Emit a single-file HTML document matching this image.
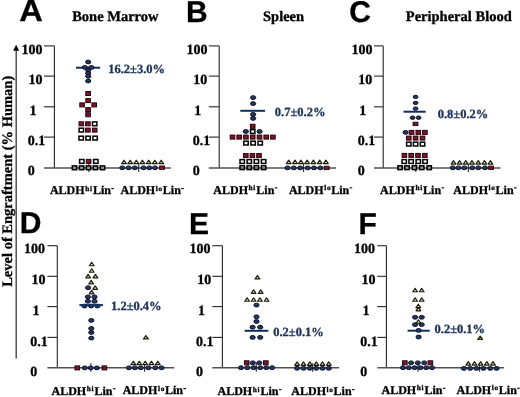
<!DOCTYPE html>
<html><head><meta charset="utf-8"><style>
html,body{margin:0;padding:0;background:#fff;}
svg{display:block;will-change:transform;}
</style></head><body>
<svg width="520" height="397" viewBox="0 0 520 397" text-rendering="geometricPrecision">
<rect width="520" height="397" fill="#fff"/>
<line x1="54.4" y1="45.9" x2="54.4" y2="168.0" stroke="#262626" stroke-width="1.1"/>
<line x1="44.0" y1="45.9" x2="54.4" y2="45.9" stroke="#262626" stroke-width="1.1"/>
<line x1="44.0" y1="76.1" x2="54.4" y2="76.1" stroke="#262626" stroke-width="1.1"/>
<line x1="44.0" y1="106.8" x2="54.4" y2="106.8" stroke="#262626" stroke-width="1.1"/>
<line x1="44.0" y1="137.1" x2="54.4" y2="137.1" stroke="#262626" stroke-width="1.1"/>
<line x1="44.0" y1="168.0" x2="170.9" y2="168.0" stroke="#505050" stroke-width="1.6"/>
<line x1="88.8" y1="163.5" x2="88.8" y2="172.0" stroke="#262626" stroke-width="1.1"/>
<line x1="138.7" y1="163.5" x2="138.7" y2="172.0" stroke="#262626" stroke-width="1.1"/>
<text transform="translate(21.6,53.5) scale(1.0,1)" font-family="Liberation Serif" font-weight="bold" font-size="14" stroke="#000" stroke-width="0.3">100</text>
<text transform="translate(28.4,83.6) scale(1.0,1)" font-family="Liberation Serif" font-weight="bold" font-size="14" stroke="#000" stroke-width="0.3">10</text>
<text transform="translate(29.4,114.9) scale(1.0,1)" font-family="Liberation Serif" font-weight="bold" font-size="14" stroke="#000" stroke-width="0.3">1</text>
<text transform="translate(27.8,145.2) scale(1.0,1)" font-family="Liberation Serif" font-weight="bold" font-size="14" stroke="#000" stroke-width="0.3">0.1</text>
<text transform="translate(27.8,175.4) scale(1.0,1)" font-family="Liberation Serif" font-weight="bold" font-size="14" stroke="#000" stroke-width="0.3">0</text>
<line x1="219.2" y1="45.9" x2="219.2" y2="168.0" stroke="#262626" stroke-width="1.1"/>
<line x1="208.8" y1="45.9" x2="219.2" y2="45.9" stroke="#262626" stroke-width="1.1"/>
<line x1="208.8" y1="76.1" x2="219.2" y2="76.1" stroke="#262626" stroke-width="1.1"/>
<line x1="208.8" y1="106.8" x2="219.2" y2="106.8" stroke="#262626" stroke-width="1.1"/>
<line x1="208.8" y1="137.1" x2="219.2" y2="137.1" stroke="#262626" stroke-width="1.1"/>
<line x1="208.8" y1="168.0" x2="336.0" y2="168.0" stroke="#505050" stroke-width="1.6"/>
<line x1="303.6" y1="163.5" x2="303.6" y2="172.0" stroke="#262626" stroke-width="1.1"/>
<text transform="translate(186.5,53.5) scale(1.0,1)" font-family="Liberation Serif" font-weight="bold" font-size="14" stroke="#000" stroke-width="0.3">100</text>
<text transform="translate(193.3,83.6) scale(1.0,1)" font-family="Liberation Serif" font-weight="bold" font-size="14" stroke="#000" stroke-width="0.3">10</text>
<text transform="translate(194.3,114.9) scale(1.0,1)" font-family="Liberation Serif" font-weight="bold" font-size="14" stroke="#000" stroke-width="0.3">1</text>
<text transform="translate(192.7,145.2) scale(1.0,1)" font-family="Liberation Serif" font-weight="bold" font-size="14" stroke="#000" stroke-width="0.3">0.1</text>
<text transform="translate(192.7,175.4) scale(1.0,1)" font-family="Liberation Serif" font-weight="bold" font-size="14" stroke="#000" stroke-width="0.3">0</text>
<line x1="383.2" y1="45.9" x2="383.2" y2="168.0" stroke="#262626" stroke-width="1.1"/>
<line x1="374.0" y1="45.9" x2="383.2" y2="45.9" stroke="#262626" stroke-width="1.1"/>
<line x1="374.0" y1="76.1" x2="383.2" y2="76.1" stroke="#262626" stroke-width="1.1"/>
<line x1="374.0" y1="106.8" x2="383.2" y2="106.8" stroke="#262626" stroke-width="1.1"/>
<line x1="374.0" y1="137.1" x2="383.2" y2="137.1" stroke="#262626" stroke-width="1.1"/>
<line x1="374.0" y1="168.0" x2="500.5" y2="168.0" stroke="#505050" stroke-width="1.6"/>
<line x1="415.8" y1="163.5" x2="415.8" y2="172.0" stroke="#262626" stroke-width="1.1"/>
<line x1="468.3" y1="163.5" x2="468.3" y2="172.0" stroke="#262626" stroke-width="1.1"/>
<text transform="translate(351.5,53.5) scale(1.0,1)" font-family="Liberation Serif" font-weight="bold" font-size="14" stroke="#000" stroke-width="0.3">100</text>
<text transform="translate(358.3,83.6) scale(1.0,1)" font-family="Liberation Serif" font-weight="bold" font-size="14" stroke="#000" stroke-width="0.3">10</text>
<text transform="translate(359.3,114.9) scale(1.0,1)" font-family="Liberation Serif" font-weight="bold" font-size="14" stroke="#000" stroke-width="0.3">1</text>
<text transform="translate(357.7,145.2) scale(1.0,1)" font-family="Liberation Serif" font-weight="bold" font-size="14" stroke="#000" stroke-width="0.3">0.1</text>
<text transform="translate(357.7,175.4) scale(1.0,1)" font-family="Liberation Serif" font-weight="bold" font-size="14" stroke="#000" stroke-width="0.3">0</text>
<line x1="57.3" y1="245.7" x2="57.3" y2="367.8" stroke="#262626" stroke-width="1.1"/>
<line x1="47.4" y1="245.7" x2="57.3" y2="245.7" stroke="#262626" stroke-width="1.1"/>
<line x1="47.4" y1="276.3" x2="57.3" y2="276.3" stroke="#262626" stroke-width="1.1"/>
<line x1="47.4" y1="306.6" x2="57.3" y2="306.6" stroke="#262626" stroke-width="1.1"/>
<line x1="47.4" y1="337.4" x2="57.3" y2="337.4" stroke="#262626" stroke-width="1.1"/>
<line x1="47.4" y1="367.8" x2="174.2" y2="367.8" stroke="#505050" stroke-width="1.6"/>
<line x1="90.9" y1="363.3" x2="90.9" y2="371.8" stroke="#262626" stroke-width="1.1"/>
<line x1="144.6" y1="363.3" x2="144.6" y2="371.8" stroke="#262626" stroke-width="1.1"/>
<text transform="translate(24.0,252.9) scale(1.0,1)" font-family="Liberation Serif" font-weight="bold" font-size="14" stroke="#000" stroke-width="0.3">100</text>
<text transform="translate(31.6,283.6) scale(1.0,1)" font-family="Liberation Serif" font-weight="bold" font-size="14" stroke="#000" stroke-width="0.3">10</text>
<text transform="translate(32.4,315.0) scale(1.0,1)" font-family="Liberation Serif" font-weight="bold" font-size="14" stroke="#000" stroke-width="0.3">1</text>
<text transform="translate(30.3,345.8) scale(1.0,1)" font-family="Liberation Serif" font-weight="bold" font-size="14" stroke="#000" stroke-width="0.3">0.1</text>
<text transform="translate(30.3,375.7) scale(1.0,1)" font-family="Liberation Serif" font-weight="bold" font-size="14" stroke="#000" stroke-width="0.3">0</text>
<line x1="222.4" y1="245.7" x2="222.4" y2="367.8" stroke="#262626" stroke-width="1.1"/>
<line x1="212.3" y1="245.7" x2="222.4" y2="245.7" stroke="#262626" stroke-width="1.1"/>
<line x1="212.3" y1="276.3" x2="222.4" y2="276.3" stroke="#262626" stroke-width="1.1"/>
<line x1="212.3" y1="306.6" x2="222.4" y2="306.6" stroke="#262626" stroke-width="1.1"/>
<line x1="212.3" y1="337.4" x2="222.4" y2="337.4" stroke="#262626" stroke-width="1.1"/>
<line x1="212.3" y1="367.8" x2="339.20000000000005" y2="367.8" stroke="#505050" stroke-width="1.6"/>
<line x1="256.3" y1="363.3" x2="256.3" y2="371.8" stroke="#262626" stroke-width="1.1"/>
<line x1="312.7" y1="363.3" x2="312.7" y2="371.8" stroke="#262626" stroke-width="1.1"/>
<text transform="translate(189.6,252.9) scale(1.0,1)" font-family="Liberation Serif" font-weight="bold" font-size="14" stroke="#000" stroke-width="0.3">100</text>
<text transform="translate(197.2,283.6) scale(1.0,1)" font-family="Liberation Serif" font-weight="bold" font-size="14" stroke="#000" stroke-width="0.3">10</text>
<text transform="translate(198.0,315.0) scale(1.0,1)" font-family="Liberation Serif" font-weight="bold" font-size="14" stroke="#000" stroke-width="0.3">1</text>
<text transform="translate(195.9,345.8) scale(1.0,1)" font-family="Liberation Serif" font-weight="bold" font-size="14" stroke="#000" stroke-width="0.3">0.1</text>
<text transform="translate(195.9,375.7) scale(1.0,1)" font-family="Liberation Serif" font-weight="bold" font-size="14" stroke="#000" stroke-width="0.3">0</text>
<line x1="386.4" y1="245.7" x2="386.4" y2="367.8" stroke="#262626" stroke-width="1.1"/>
<line x1="377.3" y1="245.7" x2="386.4" y2="245.7" stroke="#262626" stroke-width="1.1"/>
<line x1="377.3" y1="276.3" x2="386.4" y2="276.3" stroke="#262626" stroke-width="1.1"/>
<line x1="377.3" y1="306.6" x2="386.4" y2="306.6" stroke="#262626" stroke-width="1.1"/>
<line x1="377.3" y1="337.4" x2="386.4" y2="337.4" stroke="#262626" stroke-width="1.1"/>
<line x1="377.3" y1="367.8" x2="504.1" y2="367.8" stroke="#505050" stroke-width="1.6"/>
<line x1="418.0" y1="363.3" x2="418.0" y2="371.8" stroke="#262626" stroke-width="1.1"/>
<line x1="479.6" y1="363.3" x2="479.6" y2="371.8" stroke="#262626" stroke-width="1.1"/>
<text transform="translate(354.0,252.9) scale(1.0,1)" font-family="Liberation Serif" font-weight="bold" font-size="14" stroke="#000" stroke-width="0.3">100</text>
<text transform="translate(361.6,283.6) scale(1.0,1)" font-family="Liberation Serif" font-weight="bold" font-size="14" stroke="#000" stroke-width="0.3">10</text>
<text transform="translate(362.4,315.0) scale(1.0,1)" font-family="Liberation Serif" font-weight="bold" font-size="14" stroke="#000" stroke-width="0.3">1</text>
<text transform="translate(360.3,345.8) scale(1.0,1)" font-family="Liberation Serif" font-weight="bold" font-size="14" stroke="#000" stroke-width="0.3">0.1</text>
<text transform="translate(360.3,375.7) scale(1.0,1)" font-family="Liberation Serif" font-weight="bold" font-size="14" stroke="#000" stroke-width="0.3">0</text>
<rect x="85.80" y="91.50" width="4.6" height="4.0" fill="#7e1530" stroke="#220408" stroke-width="1"/>
<rect x="85.80" y="98.60" width="4.6" height="4.0" fill="#7e1530" stroke="#220408" stroke-width="1"/>
<rect x="85.80" y="107.60" width="4.6" height="4.0" fill="#7e1530" stroke="#220408" stroke-width="1"/>
<rect x="85.80" y="112.70" width="4.6" height="4.0" fill="#7e1530" stroke="#220408" stroke-width="1"/>
<rect x="79.80" y="102.90" width="4.6" height="4.0" fill="#7e1530" stroke="#220408" stroke-width="1"/>
<rect x="91.90" y="102.90" width="4.6" height="4.0" fill="#7e1530" stroke="#220408" stroke-width="1"/>
<rect x="79.00" y="121.80" width="4.6" height="4.0" fill="#7e1530" stroke="#220408" stroke-width="1"/>
<rect x="85.60" y="121.80" width="4.6" height="4.0" fill="#7e1530" stroke="#220408" stroke-width="1"/>
<rect x="92.50" y="121.90" width="4.4" height="3.8" fill="#fff" stroke="#000" stroke-width="1.5"/>
<rect x="79.10" y="128.20" width="4.4" height="3.8" fill="#fff" stroke="#000" stroke-width="1.5"/>
<rect x="85.60" y="128.10" width="4.6" height="4.0" fill="#7e1530" stroke="#220408" stroke-width="1"/>
<rect x="92.40" y="128.10" width="4.6" height="4.0" fill="#7e1530" stroke="#220408" stroke-width="1"/>
<rect x="79.00" y="136.20" width="4.4" height="3.8" fill="#fff" stroke="#000" stroke-width="1.5"/>
<rect x="85.90" y="136.20" width="4.4" height="3.8" fill="#fff" stroke="#000" stroke-width="1.5"/>
<rect x="92.90" y="136.20" width="4.4" height="3.8" fill="#fff" stroke="#000" stroke-width="1.5"/>
<rect x="79.60" y="159.50" width="4.4" height="3.8" fill="#fff" stroke="#000" stroke-width="1.5"/>
<rect x="86.30" y="159.40" width="4.6" height="4.0" fill="#7e1530" stroke="#220408" stroke-width="1"/>
<rect x="93.60" y="159.50" width="4.4" height="3.8" fill="#fff" stroke="#000" stroke-width="1.5"/>
<rect x="72.30" y="165.90" width="4.4" height="3.8" fill="#9a9a9a" stroke="#000" stroke-width="1.5"/>
<rect x="79.40" y="165.90" width="4.4" height="3.8" fill="#9a9a9a" stroke="#000" stroke-width="1.5"/>
<rect x="86.30" y="165.90" width="4.4" height="3.8" fill="#9a9a9a" stroke="#000" stroke-width="1.5"/>
<rect x="93.20" y="165.90" width="4.4" height="3.8" fill="#9a9a9a" stroke="#000" stroke-width="1.5"/>
<rect x="100.30" y="165.90" width="4.4" height="3.8" fill="#9a9a9a" stroke="#000" stroke-width="1.5"/>
<line x1="76.0" y1="67.7" x2="100.2" y2="67.7" stroke="#0f2f5e" stroke-width="2"/>
<ellipse cx="88.2" cy="62.0" rx="2.6" ry="1.9" fill="#263863" stroke="#0a0d22" stroke-width="1"/>
<ellipse cx="84.8" cy="67.4" rx="2.6" ry="1.9" fill="#263863" stroke="#0a0d22" stroke-width="1"/>
<ellipse cx="91.4" cy="67.4" rx="2.6" ry="1.9" fill="#263863" stroke="#0a0d22" stroke-width="1"/>
<ellipse cx="88.2" cy="70.2" rx="2.6" ry="1.9" fill="#263863" stroke="#0a0d22" stroke-width="1"/>
<ellipse cx="88.2" cy="73.2" rx="2.6" ry="1.9" fill="#263863" stroke="#0a0d22" stroke-width="1"/>
<ellipse cx="88.2" cy="76.3" rx="2.6" ry="1.9" fill="#263863" stroke="#0a0d22" stroke-width="1"/>
<ellipse cx="88.2" cy="81.0" rx="2.6" ry="1.9" fill="#1a3f44" stroke="#0a0d22" stroke-width="1"/>
<polygon points="124.00,160.25 126.35,163.65 121.65,163.65" fill="#e8ecc8" stroke="#1c1c0c" stroke-width="1.2" stroke-linejoin="round"/>
<polygon points="130.20,160.25 132.55,163.65 127.85,163.65" fill="#e8ecc8" stroke="#1c1c0c" stroke-width="1.2" stroke-linejoin="round"/>
<polygon points="136.30,160.25 138.65,163.65 133.95,163.65" fill="#e8ecc8" stroke="#1c1c0c" stroke-width="1.2" stroke-linejoin="round"/>
<polygon points="142.40,160.25 144.75,163.65 140.05,163.65" fill="#e8ecc8" stroke="#1c1c0c" stroke-width="1.2" stroke-linejoin="round"/>
<polygon points="148.70,160.25 151.05,163.65 146.35,163.65" fill="#e8ecc8" stroke="#1c1c0c" stroke-width="1.2" stroke-linejoin="round"/>
<polygon points="154.80,160.25 157.15,163.65 152.45,163.65" fill="#e8ecc8" stroke="#1c1c0c" stroke-width="1.2" stroke-linejoin="round"/>
<polygon points="161.20,160.25 163.55,163.65 158.85,163.65" fill="#e8ecc8" stroke="#1c1c0c" stroke-width="1.2" stroke-linejoin="round"/>
<ellipse cx="122.3" cy="167.8" rx="2.6" ry="1.9" fill="#263863" stroke="#0a0d22" stroke-width="1"/>
<ellipse cx="128.6" cy="167.8" rx="2.6" ry="1.9" fill="#263863" stroke="#0a0d22" stroke-width="1"/>
<ellipse cx="134.8" cy="167.8" rx="2.6" ry="1.9" fill="#263863" stroke="#0a0d22" stroke-width="1"/>
<ellipse cx="143.5" cy="167.8" rx="2.6" ry="1.9" fill="#263863" stroke="#0a0d22" stroke-width="1"/>
<ellipse cx="149.3" cy="167.8" rx="2.6" ry="1.9" fill="#263863" stroke="#0a0d22" stroke-width="1"/>
<ellipse cx="155.0" cy="167.8" rx="2.6" ry="1.9" fill="#263863" stroke="#0a0d22" stroke-width="1"/>
<rect x="159.60" y="166.00" width="4.8" height="3.4" fill="#7e1530" stroke="#220408" stroke-width="0.9"/>
<ellipse cx="253.1" cy="97.6" rx="2.6" ry="1.9" fill="#263863" stroke="#0a0d22" stroke-width="1"/>
<ellipse cx="253.1" cy="103.6" rx="2.6" ry="1.9" fill="#263863" stroke="#0a0d22" stroke-width="1"/>
<line x1="240.3" y1="110.8" x2="265.1" y2="110.8" stroke="#0f2f5e" stroke-width="2"/>
<ellipse cx="253.1" cy="114.4" rx="2.6" ry="1.9" fill="#263863" stroke="#0a0d22" stroke-width="1"/>
<ellipse cx="253.1" cy="118.4" rx="2.6" ry="1.9" fill="#263863" stroke="#0a0d22" stroke-width="1"/>
<rect x="250.40" y="124.30" width="4.6" height="4.0" fill="#7e1530" stroke="#220408" stroke-width="1"/>
<rect x="230.20" y="135.10" width="4.6" height="4.0" fill="#7e1530" stroke="#220408" stroke-width="1"/>
<rect x="236.90" y="135.10" width="4.6" height="4.0" fill="#7e1530" stroke="#220408" stroke-width="1"/>
<rect x="243.60" y="135.10" width="4.6" height="4.0" fill="#7e1530" stroke="#220408" stroke-width="1"/>
<rect x="250.40" y="135.10" width="4.6" height="4.0" fill="#7e1530" stroke="#220408" stroke-width="1"/>
<rect x="257.20" y="135.10" width="4.6" height="4.0" fill="#7e1530" stroke="#220408" stroke-width="1"/>
<rect x="263.90" y="135.10" width="4.6" height="4.0" fill="#7e1530" stroke="#220408" stroke-width="1"/>
<rect x="270.60" y="135.10" width="4.6" height="4.0" fill="#7e1530" stroke="#220408" stroke-width="1"/>
<ellipse cx="245.8" cy="131.5" rx="2.6" ry="1.9" fill="#263863" stroke="#0a0d22" stroke-width="1"/>
<rect x="250.50" y="129.60" width="4.4" height="3.8" fill="#fff" stroke="#000" stroke-width="1.5"/>
<ellipse cx="259.6" cy="131.5" rx="2.6" ry="1.9" fill="#263863" stroke="#0a0d22" stroke-width="1"/>
<rect x="243.80" y="141.20" width="4.4" height="3.8" fill="#fff" stroke="#000" stroke-width="1.5"/>
<rect x="250.90" y="141.20" width="4.4" height="3.8" fill="#fff" stroke="#000" stroke-width="1.5"/>
<rect x="258.00" y="141.20" width="4.4" height="3.8" fill="#fff" stroke="#000" stroke-width="1.5"/>
<rect x="243.50" y="153.60" width="4.6" height="4.0" fill="#7e1530" stroke="#220408" stroke-width="1"/>
<rect x="250.10" y="153.60" width="4.6" height="4.0" fill="#7e1530" stroke="#220408" stroke-width="1"/>
<rect x="256.70" y="153.60" width="4.6" height="4.0" fill="#7e1530" stroke="#220408" stroke-width="1"/>
<rect x="240.00" y="159.60" width="4.4" height="3.8" fill="#fff" stroke="#000" stroke-width="1.5"/>
<rect x="247.10" y="159.60" width="4.4" height="3.8" fill="#fff" stroke="#000" stroke-width="1.5"/>
<rect x="254.20" y="159.60" width="4.4" height="3.8" fill="#fff" stroke="#000" stroke-width="1.5"/>
<rect x="261.40" y="159.60" width="4.4" height="3.8" fill="#fff" stroke="#000" stroke-width="1.5"/>
<rect x="240.00" y="165.80" width="4.4" height="3.8" fill="none" stroke="#000" stroke-width="1.5"/>
<rect x="247.10" y="165.80" width="4.4" height="3.8" fill="none" stroke="#000" stroke-width="1.5"/>
<rect x="254.20" y="165.80" width="4.4" height="3.8" fill="none" stroke="#000" stroke-width="1.5"/>
<rect x="261.40" y="165.80" width="4.4" height="3.8" fill="none" stroke="#000" stroke-width="1.5"/>
<polygon points="288.70,160.15 291.05,163.55 286.35,163.55" fill="#e8ecc8" stroke="#1c1c0c" stroke-width="1.2" stroke-linejoin="round"/>
<polygon points="295.00,160.15 297.35,163.55 292.65,163.55" fill="#e8ecc8" stroke="#1c1c0c" stroke-width="1.2" stroke-linejoin="round"/>
<polygon points="300.90,160.15 303.25,163.55 298.55,163.55" fill="#e8ecc8" stroke="#1c1c0c" stroke-width="1.2" stroke-linejoin="round"/>
<polygon points="307.10,160.15 309.45,163.55 304.75,163.55" fill="#e8ecc8" stroke="#1c1c0c" stroke-width="1.2" stroke-linejoin="round"/>
<polygon points="313.40,160.15 315.75,163.55 311.05,163.55" fill="#e8ecc8" stroke="#1c1c0c" stroke-width="1.2" stroke-linejoin="round"/>
<polygon points="319.70,160.15 322.05,163.55 317.35,163.55" fill="#e8ecc8" stroke="#1c1c0c" stroke-width="1.2" stroke-linejoin="round"/>
<polygon points="325.90,160.15 328.25,163.55 323.55,163.55" fill="#e8ecc8" stroke="#1c1c0c" stroke-width="1.2" stroke-linejoin="round"/>
<ellipse cx="287.5" cy="167.9" rx="2.6" ry="1.9" fill="#263863" stroke="#0a0d22" stroke-width="1"/>
<ellipse cx="293.8" cy="167.9" rx="2.6" ry="1.9" fill="#263863" stroke="#0a0d22" stroke-width="1"/>
<ellipse cx="300.2" cy="167.9" rx="2.6" ry="1.9" fill="#263863" stroke="#0a0d22" stroke-width="1"/>
<ellipse cx="307.7" cy="167.9" rx="2.6" ry="1.9" fill="#263863" stroke="#0a0d22" stroke-width="1"/>
<ellipse cx="314.0" cy="167.9" rx="2.6" ry="1.9" fill="#263863" stroke="#0a0d22" stroke-width="1"/>
<ellipse cx="320.4" cy="167.9" rx="2.6" ry="1.9" fill="#1a3f44" stroke="#0a0d22" stroke-width="1"/>
<rect x="324.30" y="166.20" width="4.8" height="3.4" fill="#7e1530" stroke="#220408" stroke-width="0.9"/>
<ellipse cx="415.6" cy="96.9" rx="2.4" ry="1.6" fill="#263863" stroke="#0a0d22" stroke-width="1"/>
<ellipse cx="415.6" cy="102.9" rx="2.4" ry="1.6" fill="#263863" stroke="#0a0d22" stroke-width="1"/>
<ellipse cx="415.6" cy="108.6" rx="2.4" ry="1.7" fill="#263863" stroke="#0a0d22" stroke-width="1"/>
<line x1="403.5" y1="111.7" x2="425.7" y2="111.7" stroke="#0f2f5e" stroke-width="2"/>
<ellipse cx="412.6" cy="117.7" rx="2.4" ry="1.7" fill="#263863" stroke="#0a0d22" stroke-width="1"/>
<ellipse cx="418.6" cy="117.7" rx="2.4" ry="1.7" fill="#263863" stroke="#0a0d22" stroke-width="1"/>
<rect x="413.10" y="122.20" width="4.8" height="3.4" fill="#7e1530" stroke="#220408" stroke-width="0.9"/>
<ellipse cx="405.6" cy="132.4" rx="2.6" ry="1.9" fill="#263863" stroke="#0a0d22" stroke-width="1"/>
<rect x="409.30" y="130.40" width="4.6" height="4.0" fill="#7e1530" stroke="#220408" stroke-width="1"/>
<rect x="416.00" y="130.40" width="4.6" height="4.0" fill="#7e1530" stroke="#220408" stroke-width="1"/>
<rect x="422.60" y="130.40" width="4.6" height="4.0" fill="#7e1530" stroke="#220408" stroke-width="1"/>
<rect x="406.50" y="136.10" width="4.6" height="4.0" fill="#7e1530" stroke="#220408" stroke-width="1"/>
<rect x="413.30" y="136.10" width="4.6" height="4.0" fill="#7e1530" stroke="#220408" stroke-width="1"/>
<rect x="420.20" y="136.10" width="4.6" height="4.0" fill="#7e1530" stroke="#220408" stroke-width="1"/>
<rect x="406.60" y="142.20" width="4.4" height="3.8" fill="#fff" stroke="#000" stroke-width="1.5"/>
<rect x="413.40" y="142.20" width="4.4" height="3.8" fill="#fff" stroke="#000" stroke-width="1.5"/>
<rect x="420.30" y="142.20" width="4.4" height="3.8" fill="#fff" stroke="#000" stroke-width="1.5"/>
<rect x="402.10" y="153.40" width="4.6" height="4.0" fill="#7e1530" stroke="#220408" stroke-width="1"/>
<rect x="408.90" y="153.40" width="4.6" height="4.0" fill="#7e1530" stroke="#220408" stroke-width="1"/>
<rect x="415.70" y="153.40" width="4.6" height="4.0" fill="#7e1530" stroke="#220408" stroke-width="1"/>
<rect x="422.50" y="153.40" width="4.6" height="4.0" fill="#7e1530" stroke="#220408" stroke-width="1"/>
<rect x="402.00" y="159.60" width="4.4" height="3.8" fill="#fff" stroke="#000" stroke-width="1.5"/>
<rect x="408.90" y="159.60" width="4.4" height="3.8" fill="#fff" stroke="#000" stroke-width="1.5"/>
<rect x="416.10" y="159.60" width="4.4" height="3.8" fill="#fff" stroke="#000" stroke-width="1.5"/>
<rect x="422.90" y="159.60" width="4.4" height="3.8" fill="#fff" stroke="#000" stroke-width="1.5"/>
<rect x="397.90" y="165.80" width="4.4" height="3.8" fill="#9a9a9a" stroke="#000" stroke-width="1.5"/>
<rect x="404.80" y="165.80" width="4.4" height="3.8" fill="#9a9a9a" stroke="#000" stroke-width="1.5"/>
<rect x="412.20" y="165.80" width="4.4" height="3.8" fill="#9a9a9a" stroke="#000" stroke-width="1.5"/>
<rect x="419.50" y="165.80" width="4.4" height="3.8" fill="#9a9a9a" stroke="#000" stroke-width="1.5"/>
<rect x="427.00" y="165.80" width="4.4" height="3.8" fill="#9a9a9a" stroke="#000" stroke-width="1.5"/>
<polygon points="453.50,160.65 455.85,164.05 451.15,164.05" fill="#e8ecc8" stroke="#1c1c0c" stroke-width="1.2" stroke-linejoin="round"/>
<polygon points="459.60,160.65 461.95,164.05 457.25,164.05" fill="#e8ecc8" stroke="#1c1c0c" stroke-width="1.2" stroke-linejoin="round"/>
<polygon points="465.70,160.65 468.05,164.05 463.35,164.05" fill="#e8ecc8" stroke="#1c1c0c" stroke-width="1.2" stroke-linejoin="round"/>
<polygon points="472.00,160.65 474.35,164.05 469.65,164.05" fill="#e8ecc8" stroke="#1c1c0c" stroke-width="1.2" stroke-linejoin="round"/>
<polygon points="478.30,160.65 480.65,164.05 475.95,164.05" fill="#e8ecc8" stroke="#1c1c0c" stroke-width="1.2" stroke-linejoin="round"/>
<polygon points="484.40,160.65 486.75,164.05 482.05,164.05" fill="#e8ecc8" stroke="#1c1c0c" stroke-width="1.2" stroke-linejoin="round"/>
<polygon points="490.50,160.65 492.85,164.05 488.15,164.05" fill="#e8ecc8" stroke="#1c1c0c" stroke-width="1.2" stroke-linejoin="round"/>
<ellipse cx="452.8" cy="167.8" rx="2.6" ry="1.9" fill="#263863" stroke="#0a0d22" stroke-width="1"/>
<ellipse cx="458.4" cy="167.8" rx="2.6" ry="1.9" fill="#263863" stroke="#0a0d22" stroke-width="1"/>
<ellipse cx="464.3" cy="167.8" rx="2.6" ry="1.9" fill="#263863" stroke="#0a0d22" stroke-width="1"/>
<ellipse cx="472.3" cy="167.8" rx="2.6" ry="1.9" fill="#263863" stroke="#0a0d22" stroke-width="1"/>
<ellipse cx="478.4" cy="167.8" rx="2.6" ry="1.9" fill="#263863" stroke="#0a0d22" stroke-width="1"/>
<ellipse cx="485.0" cy="167.8" rx="2.6" ry="1.9" fill="#1a3f44" stroke="#0a0d22" stroke-width="1"/>
<rect x="488.70" y="166.10" width="4.8" height="3.4" fill="#7e1530" stroke="#220408" stroke-width="0.9"/>
<rect x="75.00" y="365.90" width="4.6" height="4.0" fill="#7e1530" stroke="#220408" stroke-width="1"/>
<rect x="102.10" y="365.90" width="4.6" height="4.0" fill="#7e1530" stroke="#220408" stroke-width="1"/>
<ellipse cx="84.8" cy="367.9" rx="2.6" ry="1.9" fill="#263863" stroke="#0a0d22" stroke-width="1"/>
<ellipse cx="90.7" cy="367.9" rx="2.6" ry="1.9" fill="#263863" stroke="#0a0d22" stroke-width="1"/>
<ellipse cx="96.9" cy="367.9" rx="2.6" ry="1.9" fill="#263863" stroke="#0a0d22" stroke-width="1"/>
<polygon points="91.70,262.35 94.05,265.75 89.35,265.75" fill="#e8ecc8" stroke="#1c1c0c" stroke-width="1.2" stroke-linejoin="round"/>
<polygon points="91.70,268.85 94.05,272.25 89.35,272.25" fill="#e8ecc8" stroke="#1c1c0c" stroke-width="1.2" stroke-linejoin="round"/>
<polygon points="88.10,274.45 90.45,277.85 85.75,277.85" fill="#e8ecc8" stroke="#1c1c0c" stroke-width="1.2" stroke-linejoin="round"/>
<polygon points="95.40,274.45 97.75,277.85 93.05,277.85" fill="#e8ecc8" stroke="#1c1c0c" stroke-width="1.2" stroke-linejoin="round"/>
<polygon points="91.20,280.45 93.55,283.85 88.85,283.85" fill="#e8ecc8" stroke="#1c1c0c" stroke-width="1.2" stroke-linejoin="round"/>
<ellipse cx="88.1" cy="287.7" rx="2.6" ry="1.9" fill="#263863" stroke="#0a0d22" stroke-width="1"/>
<polygon points="95.20,285.95 97.55,289.35 92.85,289.35" fill="#e8ecc8" stroke="#1c1c0c" stroke-width="1.2" stroke-linejoin="round"/>
<polygon points="91.60,290.45 93.95,293.85 89.25,293.85" fill="#e8ecc8" stroke="#1c1c0c" stroke-width="1.2" stroke-linejoin="round"/>
<ellipse cx="87.9" cy="296.9" rx="2.6" ry="1.9" fill="#263863" stroke="#0a0d22" stroke-width="1"/>
<ellipse cx="94.5" cy="296.9" rx="2.6" ry="1.9" fill="#263863" stroke="#0a0d22" stroke-width="1"/>
<ellipse cx="87.9" cy="301.3" rx="2.6" ry="1.9" fill="#263863" stroke="#0a0d22" stroke-width="1"/>
<ellipse cx="94.5" cy="301.3" rx="2.6" ry="1.9" fill="#263863" stroke="#0a0d22" stroke-width="1"/>
<ellipse cx="84.5" cy="306.0" rx="2.6" ry="1.9" fill="#263863" stroke="#0a0d22" stroke-width="1"/>
<ellipse cx="91.1" cy="306.0" rx="2.6" ry="1.9" fill="#263863" stroke="#0a0d22" stroke-width="1"/>
<ellipse cx="97.4" cy="306.0" rx="2.6" ry="1.9" fill="#263863" stroke="#0a0d22" stroke-width="1"/>
<line x1="79.4" y1="305.1" x2="103.0" y2="305.1" stroke="#0f2f5e" stroke-width="2"/>
<ellipse cx="91.3" cy="320.4" rx="2.6" ry="1.9" fill="#263863" stroke="#0a0d22" stroke-width="1"/>
<ellipse cx="91.3" cy="328.5" rx="2.6" ry="1.9" fill="#263863" stroke="#0a0d22" stroke-width="1"/>
<ellipse cx="91.3" cy="332.5" rx="2.6" ry="1.9" fill="#263863" stroke="#0a0d22" stroke-width="1"/>
<ellipse cx="91.3" cy="338.1" rx="2.6" ry="1.9" fill="#263863" stroke="#0a0d22" stroke-width="1"/>
<polygon points="145.90,335.55 148.25,338.95 143.55,338.95" fill="#e8ecc8" stroke="#1c1c0c" stroke-width="1.2" stroke-linejoin="round"/>
<polygon points="133.30,361.25 135.65,364.65 130.95,364.65" fill="#e8ecc8" stroke="#1c1c0c" stroke-width="1.2" stroke-linejoin="round"/>
<polygon points="139.20,361.25 141.55,364.65 136.85,364.65" fill="#e8ecc8" stroke="#1c1c0c" stroke-width="1.2" stroke-linejoin="round"/>
<polygon points="145.20,361.25 147.55,364.65 142.85,364.65" fill="#e8ecc8" stroke="#1c1c0c" stroke-width="1.2" stroke-linejoin="round"/>
<polygon points="151.50,361.25 153.85,364.65 149.15,364.65" fill="#e8ecc8" stroke="#1c1c0c" stroke-width="1.2" stroke-linejoin="round"/>
<polygon points="157.80,361.25 160.15,364.65 155.45,364.65" fill="#e8ecc8" stroke="#1c1c0c" stroke-width="1.2" stroke-linejoin="round"/>
<ellipse cx="128.9" cy="367.8" rx="2.6" ry="1.9" fill="#263863" stroke="#0a0d22" stroke-width="1"/>
<ellipse cx="134.9" cy="367.8" rx="2.6" ry="1.9" fill="#263863" stroke="#0a0d22" stroke-width="1"/>
<ellipse cx="140.8" cy="367.8" rx="2.6" ry="1.9" fill="#263863" stroke="#0a0d22" stroke-width="1"/>
<ellipse cx="148.4" cy="367.8" rx="2.6" ry="1.9" fill="#263863" stroke="#0a0d22" stroke-width="1"/>
<ellipse cx="155.3" cy="367.8" rx="2.6" ry="1.9" fill="#263863" stroke="#0a0d22" stroke-width="1"/>
<ellipse cx="161.6" cy="367.8" rx="2.6" ry="1.9" fill="#263863" stroke="#0a0d22" stroke-width="1"/>
<polygon points="257.40,275.55 259.75,278.95 255.05,278.95" fill="#e8ecc8" stroke="#1c1c0c" stroke-width="1.2" stroke-linejoin="round"/>
<polygon points="253.60,289.95 255.95,293.35 251.25,293.35" fill="#e8ecc8" stroke="#1c1c0c" stroke-width="1.2" stroke-linejoin="round"/>
<polygon points="260.70,289.95 263.05,293.35 258.35,293.35" fill="#e8ecc8" stroke="#1c1c0c" stroke-width="1.2" stroke-linejoin="round"/>
<polygon points="247.10,297.85 249.45,301.25 244.75,301.25" fill="#e8ecc8" stroke="#1c1c0c" stroke-width="1.2" stroke-linejoin="round"/>
<polygon points="253.60,297.85 255.95,301.25 251.25,301.25" fill="#e8ecc8" stroke="#1c1c0c" stroke-width="1.2" stroke-linejoin="round"/>
<polygon points="259.90,297.85 262.25,301.25 257.55,301.25" fill="#e8ecc8" stroke="#1c1c0c" stroke-width="1.2" stroke-linejoin="round"/>
<polygon points="266.60,297.85 268.95,301.25 264.25,301.25" fill="#e8ecc8" stroke="#1c1c0c" stroke-width="1.2" stroke-linejoin="round"/>
<ellipse cx="256.5" cy="305.1" rx="2.6" ry="1.9" fill="#263863" stroke="#0a0d22" stroke-width="1"/>
<ellipse cx="256.5" cy="316.8" rx="2.6" ry="1.9" fill="#263863" stroke="#0a0d22" stroke-width="1"/>
<ellipse cx="256.5" cy="321.5" rx="2.6" ry="1.9" fill="#263863" stroke="#0a0d22" stroke-width="1"/>
<ellipse cx="252.6" cy="327.2" rx="2.6" ry="1.9" fill="#263863" stroke="#0a0d22" stroke-width="1"/>
<ellipse cx="260.2" cy="327.2" rx="2.6" ry="1.9" fill="#263863" stroke="#0a0d22" stroke-width="1"/>
<line x1="244.6" y1="330.8" x2="268.4" y2="330.8" stroke="#0f2f5e" stroke-width="2"/>
<ellipse cx="252.6" cy="337.4" rx="2.6" ry="1.9" fill="#263863" stroke="#0a0d22" stroke-width="1"/>
<ellipse cx="260.2" cy="337.4" rx="2.6" ry="1.9" fill="#263863" stroke="#0a0d22" stroke-width="1"/>
<rect x="244.40" y="360.80" width="4.6" height="4.0" fill="#7e1530" stroke="#220408" stroke-width="1"/>
<ellipse cx="252.8" cy="362.8" rx="2.6" ry="1.9" fill="#263863" stroke="#0a0d22" stroke-width="1"/>
<ellipse cx="259.3" cy="362.8" rx="2.6" ry="1.9" fill="#263863" stroke="#0a0d22" stroke-width="1"/>
<rect x="263.50" y="360.80" width="4.6" height="4.0" fill="#7e1530" stroke="#220408" stroke-width="1"/>
<ellipse cx="241.0" cy="367.7" rx="2.6" ry="1.9" fill="#263863" stroke="#0a0d22" stroke-width="1"/>
<ellipse cx="247.3" cy="367.7" rx="2.6" ry="1.9" fill="#263863" stroke="#0a0d22" stroke-width="1"/>
<ellipse cx="253.6" cy="367.7" rx="2.6" ry="1.9" fill="#263863" stroke="#0a0d22" stroke-width="1"/>
<ellipse cx="260.2" cy="367.7" rx="2.6" ry="1.9" fill="#263863" stroke="#0a0d22" stroke-width="1"/>
<ellipse cx="266.3" cy="367.7" rx="2.6" ry="1.9" fill="#263863" stroke="#0a0d22" stroke-width="1"/>
<ellipse cx="272.1" cy="367.7" rx="2.6" ry="1.9" fill="#263863" stroke="#0a0d22" stroke-width="1"/>
<polygon points="297.10,361.95 299.45,365.35 294.75,365.35" fill="#e8ecc8" stroke="#1c1c0c" stroke-width="1.2" stroke-linejoin="round"/>
<polygon points="303.50,361.95 305.85,365.35 301.15,365.35" fill="#e8ecc8" stroke="#1c1c0c" stroke-width="1.2" stroke-linejoin="round"/>
<polygon points="309.80,361.95 312.15,365.35 307.45,365.35" fill="#e8ecc8" stroke="#1c1c0c" stroke-width="1.2" stroke-linejoin="round"/>
<polygon points="316.30,361.95 318.65,365.35 313.95,365.35" fill="#e8ecc8" stroke="#1c1c0c" stroke-width="1.2" stroke-linejoin="round"/>
<polygon points="322.50,361.95 324.85,365.35 320.15,365.35" fill="#e8ecc8" stroke="#1c1c0c" stroke-width="1.2" stroke-linejoin="round"/>
<polygon points="328.80,361.95 331.15,365.35 326.45,365.35" fill="#e8ecc8" stroke="#1c1c0c" stroke-width="1.2" stroke-linejoin="round"/>
<ellipse cx="297.1" cy="368.3" rx="2.6" ry="1.9" fill="#263863" stroke="#0a0d22" stroke-width="1"/>
<ellipse cx="303.5" cy="368.3" rx="2.6" ry="1.9" fill="#263863" stroke="#0a0d22" stroke-width="1"/>
<ellipse cx="309.8" cy="368.3" rx="2.6" ry="1.9" fill="#263863" stroke="#0a0d22" stroke-width="1"/>
<ellipse cx="316.3" cy="368.3" rx="2.6" ry="1.9" fill="#263863" stroke="#0a0d22" stroke-width="1"/>
<ellipse cx="322.5" cy="368.3" rx="2.6" ry="1.9" fill="#263863" stroke="#0a0d22" stroke-width="1"/>
<ellipse cx="328.8" cy="368.3" rx="2.6" ry="1.9" fill="#263863" stroke="#0a0d22" stroke-width="1"/>
<polygon points="415.10,288.35 417.45,291.75 412.75,291.75" fill="#e8ecc8" stroke="#1c1c0c" stroke-width="1.2" stroke-linejoin="round"/>
<polygon points="421.70,288.35 424.05,291.75 419.35,291.75" fill="#e8ecc8" stroke="#1c1c0c" stroke-width="1.2" stroke-linejoin="round"/>
<polygon points="415.10,297.85 417.45,301.25 412.75,301.25" fill="#e8ecc8" stroke="#1c1c0c" stroke-width="1.2" stroke-linejoin="round"/>
<polygon points="421.70,297.85 424.05,301.25 419.35,301.25" fill="#e8ecc8" stroke="#1c1c0c" stroke-width="1.2" stroke-linejoin="round"/>
<polygon points="418.30,304.25 420.65,307.65 415.95,307.65" fill="#e8ecc8" stroke="#1c1c0c" stroke-width="1.2" stroke-linejoin="round"/>
<polygon points="418.40,307.45 420.75,310.85 416.05,310.85" fill="#e8ecc8" stroke="#1c1c0c" stroke-width="1.2" stroke-linejoin="round"/>
<ellipse cx="415.1" cy="317.3" rx="2.6" ry="1.9" fill="#263863" stroke="#0a0d22" stroke-width="1"/>
<ellipse cx="421.7" cy="317.3" rx="2.6" ry="1.9" fill="#263863" stroke="#0a0d22" stroke-width="1"/>
<polygon points="418.40,319.85 420.75,323.25 416.05,323.25" fill="#e8ecc8" stroke="#1c1c0c" stroke-width="1.2" stroke-linejoin="round"/>
<ellipse cx="415.1" cy="324.6" rx="2.6" ry="1.9" fill="#263863" stroke="#0a0d22" stroke-width="1"/>
<ellipse cx="421.7" cy="324.6" rx="2.6" ry="1.9" fill="#263863" stroke="#0a0d22" stroke-width="1"/>
<line x1="407.6" y1="330.7" x2="429.7" y2="330.7" stroke="#0f2f5e" stroke-width="2"/>
<ellipse cx="418.6" cy="330.4" rx="2.6" ry="1.9" fill="#263863" stroke="#0a0d22" stroke-width="1"/>
<ellipse cx="418.6" cy="337.0" rx="2.6" ry="1.9" fill="#263863" stroke="#0a0d22" stroke-width="1"/>
<rect x="402.50" y="360.80" width="4.6" height="4.0" fill="#7e1530" stroke="#220408" stroke-width="1"/>
<ellipse cx="411.1" cy="362.8" rx="2.6" ry="1.9" fill="#1a3f44" stroke="#0a0d22" stroke-width="1"/>
<ellipse cx="417.8" cy="362.8" rx="2.6" ry="1.9" fill="#263863" stroke="#0a0d22" stroke-width="1"/>
<ellipse cx="424.3" cy="362.8" rx="2.6" ry="1.9" fill="#263863" stroke="#0a0d22" stroke-width="1"/>
<rect x="428.10" y="360.80" width="4.6" height="4.0" fill="#7e1530" stroke="#220408" stroke-width="1"/>
<ellipse cx="403.0" cy="367.7" rx="2.6" ry="1.9" fill="#263863" stroke="#0a0d22" stroke-width="1"/>
<ellipse cx="408.8" cy="367.7" rx="2.6" ry="1.9" fill="#263863" stroke="#0a0d22" stroke-width="1"/>
<ellipse cx="414.6" cy="367.7" rx="2.6" ry="1.9" fill="#263863" stroke="#0a0d22" stroke-width="1"/>
<ellipse cx="420.4" cy="367.7" rx="2.6" ry="1.9" fill="#263863" stroke="#0a0d22" stroke-width="1"/>
<ellipse cx="426.2" cy="367.7" rx="2.6" ry="1.9" fill="#263863" stroke="#0a0d22" stroke-width="1"/>
<ellipse cx="432.0" cy="367.7" rx="2.6" ry="1.9" fill="#263863" stroke="#0a0d22" stroke-width="1"/>
<polygon points="480.20,336.05 482.55,339.45 477.85,339.45" fill="#e8ecc8" stroke="#1c1c0c" stroke-width="1.2" stroke-linejoin="round"/>
<polygon points="468.30,361.65 470.65,365.05 465.95,365.05" fill="#e8ecc8" stroke="#1c1c0c" stroke-width="1.2" stroke-linejoin="round"/>
<polygon points="474.50,361.65 476.85,365.05 472.15,365.05" fill="#e8ecc8" stroke="#1c1c0c" stroke-width="1.2" stroke-linejoin="round"/>
<polygon points="480.60,361.65 482.95,365.05 478.25,365.05" fill="#e8ecc8" stroke="#1c1c0c" stroke-width="1.2" stroke-linejoin="round"/>
<polygon points="486.80,361.65 489.15,365.05 484.45,365.05" fill="#e8ecc8" stroke="#1c1c0c" stroke-width="1.2" stroke-linejoin="round"/>
<polygon points="493.00,361.65 495.35,365.05 490.65,365.05" fill="#e8ecc8" stroke="#1c1c0c" stroke-width="1.2" stroke-linejoin="round"/>
<ellipse cx="463.9" cy="368.4" rx="2.6" ry="1.9" fill="#263863" stroke="#0a0d22" stroke-width="1"/>
<ellipse cx="470.2" cy="368.4" rx="2.6" ry="1.9" fill="#263863" stroke="#0a0d22" stroke-width="1"/>
<ellipse cx="476.4" cy="368.4" rx="2.6" ry="1.9" fill="#263863" stroke="#0a0d22" stroke-width="1"/>
<ellipse cx="483.4" cy="368.4" rx="2.6" ry="1.9" fill="#263863" stroke="#0a0d22" stroke-width="1"/>
<ellipse cx="490.2" cy="368.4" rx="2.6" ry="1.9" fill="#263863" stroke="#0a0d22" stroke-width="1"/>
<ellipse cx="496.6" cy="368.4" rx="2.6" ry="1.9" fill="#263863" stroke="#0a0d22" stroke-width="1"/>
<text x="108.2" y="73.3" font-family="Liberation Serif" font-weight="bold" font-size="12.5" fill="#1b3158" stroke="#1b3158" stroke-width="0.3" >16.2±3.0%</text>
<text x="274.8" y="115.9" font-family="Liberation Serif" font-weight="bold" font-size="12.5" fill="#1b3158" stroke="#1b3158" stroke-width="0.3" >0.7±0.2%</text>
<text x="437.7" y="118.3" font-family="Liberation Serif" font-weight="bold" font-size="12.5" fill="#1b3158" stroke="#1b3158" stroke-width="0.3" >0.8±0.2%</text>
<text x="111.0" y="309.5" font-family="Liberation Serif" font-weight="bold" font-size="12.5" fill="#1b3158" stroke="#1b3158" stroke-width="0.3" >1.2±0.4%</text>
<text x="273.2" y="336.1" font-family="Liberation Serif" font-weight="bold" font-size="12.5" fill="#1b3158" stroke="#1b3158" stroke-width="0.3" >0.2±0.1%</text>
<text x="434.5" y="333.2" font-family="Liberation Serif" font-weight="bold" font-size="12.5" fill="#1b3158" stroke="#1b3158" stroke-width="0.3" >0.2±0.1%</text>
<text x="49.90" y="194.3" font-family="Liberation Serif" font-weight="bold" stroke="#000" stroke-width="0.3" font-size="12">ALDH</text>
<text x="85.20" y="190.60" font-family="Liberation Serif" font-weight="bold" stroke="#000" stroke-width="0.3" font-size="7.3" letter-spacing="0.7">hi</text>
<text x="92.90" y="194.3" font-family="Liberation Serif" font-weight="bold" stroke="#000" stroke-width="0.3" font-size="12">Lin</text>
<rect x="111.30" y="188.00" width="2.6" height="1.1" fill="#000"/>
<text x="120.50" y="194.3" font-family="Liberation Serif" font-weight="bold" stroke="#000" stroke-width="0.3" font-size="12">ALDH</text>
<text x="155.80" y="190.60" font-family="Liberation Serif" font-weight="bold" stroke="#000" stroke-width="0.3" font-size="7.3" letter-spacing="0.7">lo</text>
<text x="162.80" y="194.3" font-family="Liberation Serif" font-weight="bold" stroke="#000" stroke-width="0.3" font-size="12">Lin</text>
<rect x="181.20" y="188.00" width="2.6" height="1.1" fill="#000"/>
<text x="213.30" y="193.6" font-family="Liberation Serif" font-weight="bold" stroke="#000" stroke-width="0.3" font-size="12">ALDH</text>
<text x="248.60" y="189.90" font-family="Liberation Serif" font-weight="bold" stroke="#000" stroke-width="0.3" font-size="7.3" letter-spacing="0.7">hi</text>
<text x="256.30" y="193.6" font-family="Liberation Serif" font-weight="bold" stroke="#000" stroke-width="0.3" font-size="12">Lin</text>
<rect x="274.70" y="187.30" width="2.6" height="1.1" fill="#000"/>
<text x="288.90" y="193.6" font-family="Liberation Serif" font-weight="bold" stroke="#000" stroke-width="0.3" font-size="12">ALDH</text>
<text x="324.20" y="189.90" font-family="Liberation Serif" font-weight="bold" stroke="#000" stroke-width="0.3" font-size="7.3" letter-spacing="0.7">lo</text>
<text x="331.20" y="193.6" font-family="Liberation Serif" font-weight="bold" stroke="#000" stroke-width="0.3" font-size="12">Lin</text>
<rect x="349.60" y="187.30" width="2.6" height="1.1" fill="#000"/>
<text x="380.10" y="193.6" font-family="Liberation Serif" font-weight="bold" stroke="#000" stroke-width="0.3" font-size="12">ALDH</text>
<text x="415.40" y="189.90" font-family="Liberation Serif" font-weight="bold" stroke="#000" stroke-width="0.3" font-size="7.3" letter-spacing="0.7">hi</text>
<text x="423.10" y="193.6" font-family="Liberation Serif" font-weight="bold" stroke="#000" stroke-width="0.3" font-size="12">Lin</text>
<rect x="441.50" y="187.30" width="2.6" height="1.1" fill="#000"/>
<text x="453.30" y="193.6" font-family="Liberation Serif" font-weight="bold" stroke="#000" stroke-width="0.3" font-size="12">ALDH</text>
<text x="488.60" y="189.90" font-family="Liberation Serif" font-weight="bold" stroke="#000" stroke-width="0.3" font-size="7.3" letter-spacing="0.7">lo</text>
<text x="495.60" y="193.6" font-family="Liberation Serif" font-weight="bold" stroke="#000" stroke-width="0.3" font-size="12">Lin</text>
<rect x="514.00" y="187.30" width="2.6" height="1.1" fill="#000"/>
<text x="51.50" y="394.5" font-family="Liberation Serif" font-weight="bold" stroke="#000" stroke-width="0.3" font-size="12">ALDH</text>
<text x="86.80" y="390.80" font-family="Liberation Serif" font-weight="bold" stroke="#000" stroke-width="0.3" font-size="7.3" letter-spacing="0.7">hi</text>
<text x="94.50" y="394.5" font-family="Liberation Serif" font-weight="bold" stroke="#000" stroke-width="0.3" font-size="12">Lin</text>
<rect x="112.90" y="388.20" width="2.6" height="1.1" fill="#000"/>
<text x="122.70" y="394.3" font-family="Liberation Serif" font-weight="bold" stroke="#000" stroke-width="0.3" font-size="12">ALDH</text>
<text x="158.00" y="390.60" font-family="Liberation Serif" font-weight="bold" stroke="#000" stroke-width="0.3" font-size="7.3" letter-spacing="0.7">lo</text>
<text x="165.00" y="394.3" font-family="Liberation Serif" font-weight="bold" stroke="#000" stroke-width="0.3" font-size="12">Lin</text>
<rect x="183.40" y="388.00" width="2.6" height="1.1" fill="#000"/>
<text x="217.50" y="395.4" font-family="Liberation Serif" font-weight="bold" stroke="#000" stroke-width="0.3" font-size="12">ALDH</text>
<text x="252.80" y="391.70" font-family="Liberation Serif" font-weight="bold" stroke="#000" stroke-width="0.3" font-size="7.3" letter-spacing="0.7">hi</text>
<text x="260.50" y="395.4" font-family="Liberation Serif" font-weight="bold" stroke="#000" stroke-width="0.3" font-size="12">Lin</text>
<rect x="278.90" y="389.10" width="2.6" height="1.1" fill="#000"/>
<text x="291.30" y="395.4" font-family="Liberation Serif" font-weight="bold" stroke="#000" stroke-width="0.3" font-size="12">ALDH</text>
<text x="326.60" y="391.70" font-family="Liberation Serif" font-weight="bold" stroke="#000" stroke-width="0.3" font-size="7.3" letter-spacing="0.7">lo</text>
<text x="333.60" y="395.4" font-family="Liberation Serif" font-weight="bold" stroke="#000" stroke-width="0.3" font-size="12">Lin</text>
<rect x="352.00" y="389.10" width="2.6" height="1.1" fill="#000"/>
<text x="381.50" y="394.0" font-family="Liberation Serif" font-weight="bold" stroke="#000" stroke-width="0.3" font-size="12">ALDH</text>
<text x="416.80" y="390.30" font-family="Liberation Serif" font-weight="bold" stroke="#000" stroke-width="0.3" font-size="7.3" letter-spacing="0.7">hi</text>
<text x="424.50" y="394.0" font-family="Liberation Serif" font-weight="bold" stroke="#000" stroke-width="0.3" font-size="12">Lin</text>
<rect x="442.90" y="387.70" width="2.6" height="1.1" fill="#000"/>
<text x="456.50" y="394.0" font-family="Liberation Serif" font-weight="bold" stroke="#000" stroke-width="0.3" font-size="12">ALDH</text>
<text x="491.80" y="390.30" font-family="Liberation Serif" font-weight="bold" stroke="#000" stroke-width="0.3" font-size="7.3" letter-spacing="0.7">lo</text>
<text x="498.80" y="394.0" font-family="Liberation Serif" font-weight="bold" stroke="#000" stroke-width="0.3" font-size="12">Lin</text>
<rect x="517.20" y="387.70" width="2.6" height="1.1" fill="#000"/>
<text x="72.2" y="21.0" font-family="Liberation Serif" font-weight="bold" font-size="14.5" fill="#000" stroke="#000" stroke-width="0.3" >Bone Marrow</text>
<text x="263.0" y="20.9" font-family="Liberation Serif" font-weight="bold" font-size="14.5" fill="#000" stroke="#000" stroke-width="0.3" >Spleen</text>
<text x="405.8" y="21.0" font-family="Liberation Serif" font-weight="bold" font-size="14.5" fill="#000" stroke="#000" stroke-width="0.3" >Peripheral Blood</text>
<text transform="translate(19.2,20.7) scale(1.07,1)" font-family="Liberation Sans" font-weight="bold" font-size="30.5" stroke="#000" stroke-width="0.3">A</text>
<text x="185.95" y="21.9" font-family="Liberation Sans" font-weight="bold" font-size="30" fill="#000" stroke="#000" stroke-width="0.3" >B</text>
<text x="349.2" y="22.1" font-family="Liberation Sans" font-weight="bold" font-size="30" fill="#000" stroke="#000" stroke-width="0.3" >C</text>
<text x="19.75" y="233.3" font-family="Liberation Sans" font-weight="bold" font-size="30" fill="#000" stroke="#000" stroke-width="0.3" >D</text>
<text x="188.9" y="233.7" font-family="Liberation Sans" font-weight="bold" font-size="30" fill="#000" stroke="#000" stroke-width="0.3" >E</text>
<text x="358.6" y="234.3" font-family="Liberation Sans" font-weight="bold" font-size="30" fill="#000" stroke="#000" stroke-width="0.3" >F</text>
<text transform="translate(11.5,286.8) rotate(-90)" font-family="Liberation Serif" font-weight="bold" font-size="14.5" stroke="#000" stroke-width="0.3">Level of Engraftment (% Human)</text>
<line x1="16.2" y1="50" x2="16.2" y2="358.5" stroke="#444" stroke-width="1.4"/>
<polygon points="16.1,44.8 19.1,50.8 13.1,50.8" fill="#000"/>
</svg>
</body></html>
